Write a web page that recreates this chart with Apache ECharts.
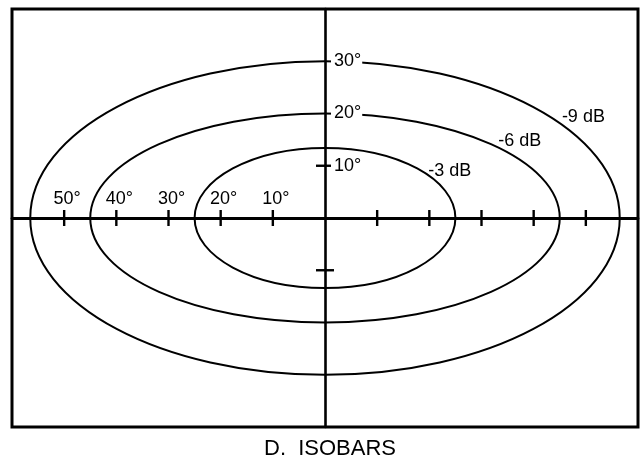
<!DOCTYPE html>
<html>
<head>
<meta charset="utf-8">
<script src="https://cdn.jsdelivr.net/npm/echarts@6/dist/echarts.min.js"></script>
<style>
  html, body { margin: 0; padding: 0; background: #fff; }
  #chart { width: 642px; height: 460px; }
</style>
</head>
<body>
<div id="chart"></div>
<script>
// isobars: half-width (horizontal degrees) and half-height (vertical degrees)
const isobarNames = ['-3 dB', '-6 dB', '-9 dB'];
const halfWidth = [25, 45, 56.5];
const halfHeight = [13.4, 20, 30];

// tick marks on the axes (degrees)
const xTicks = [-50, -40, -30, -20, -10, 10, 20, 30, 40, 50];
const yTicks = [10, -10];

// tick labels
const xLabelAt = [-50, -40, -30, -20, -10];
const xLabels = ['50°', '40°', '30°', '20°', '10°'];
const yLabelAt = [10, 20, 30];
const yLabels = ['10°', '20°', '30°'];

const FONT = 'Liberation Sans, Arial, Helvetica, sans-serif';
const chart = echarts.init(document.getElementById('chart'));

// where the dB labels sit along each curve (x in degrees) – placement only
const dbLabelX = [20, 33.4, 45.6];
const dbLabelLift = [5, 7, 8.5];

const option = {
  animation: false,
  backgroundColor: '#fff',
  title: {
    text: 'D.  ISOBARS',
    left: 264,
    top: 438,
    padding: 0,
    textStyle: { fontFamily: FONT, fontSize: 22, fontWeight: 'normal', color: '#000' }
  },
  grid: {
    show: true,
    left: 12, right: 4, top: 9, bottom: 33,
    borderColor: '#000',
    borderWidth: 3
  },
  xAxis: {
    type: 'value', min: -60, max: 60,
    axisLine: { onZero: true, lineStyle: { color: '#000', width: 2.8 } },
    axisTick: { show: false },
    axisLabel: { show: false },
    splitLine: { show: false }
  },
  yAxis: {
    type: 'value', min: -40, max: 40,
    axisLine: { onZero: true, lineStyle: { color: '#000', width: 2.6 } },
    axisTick: { show: false },
    axisLabel: { show: false },
    splitLine: { show: false }
  },
  series: [
    {
      type: 'custom',
      name: 'isobars',
      z: 3,
      data: halfWidth.map((w, i) => [w, halfHeight[i], i]),
      renderItem: function (params, api) {
        const c = api.coord([0, 0]);
        const s = api.size([api.value(0), api.value(1)]);
        return {
          type: 'ellipse',
          shape: { cx: c[0], cy: c[1], rx: s[0], ry: s[1] },
          style: { fill: 'none', stroke: '#000', lineWidth: 2 }
        };
      }
    },
    {
      type: 'custom',
      name: 'xticks',
      z: 3,
      data: xTicks.map(v => [v, 0]),
      renderItem: function (params, api) {
        const p = api.coord([api.value(0), 0]);
        return {
          type: 'line',
          shape: { x1: p[0], y1: p[1] - 8, x2: p[0], y2: p[1] + 8 },
          style: { stroke: '#000', lineWidth: 2.4 }
        };
      }
    },
    {
      type: 'custom',
      name: 'yticks',
      z: 3,
      data: yTicks.map(v => [0, v]),
      renderItem: function (params, api) {
        const p = api.coord([0, api.value(1)]);
        return {
          type: 'line',
          shape: { x1: p[0] - 9, y1: p[1], x2: p[0] + 9, y2: p[1] },
          style: { stroke: '#000', lineWidth: 2.4 }
        };
      }
    },
    {
      type: 'custom',
      name: 'xlabels',
      z: 5,
      data: xLabelAt.map((v, i) => [v, 0, i]),
      renderItem: function (params, api) {
        const p = api.coord([api.value(0), 0]);
        return {
          type: 'text',
          x: p[0] + 3, y: p[1] - 19,
          style: {
            text: xLabels[api.value(2)], fill: '#000',
            fontFamily: FONT, fontSize: 18,
            align: 'center', verticalAlign: 'middle'
          }
        };
      }
    },
    {
      type: 'custom',
      name: 'ylabels',
      z: 5,
      data: yLabelAt.map((v, i) => [0, v, i]),
      renderItem: function (params, api) {
        const p = api.coord([0, api.value(1)]);
        return {
          type: 'text',
          x: p[0] + 6, y: p[1],
          style: {
            text: yLabels[api.value(2)], fill: '#000',
            fontFamily: FONT, fontSize: 18,
            align: 'left', verticalAlign: 'middle',
            backgroundColor: '#fff', padding: [0, 1, 0, 3]
          }
        };
      }
    },
    {
      type: 'custom',
      name: 'dblabels',
      z: 5,
      data: halfWidth.map((w, i) => [w, halfHeight[i], i]),
      renderItem: function (params, api) {
        const i = api.value(2);
        const a = api.value(0), b = api.value(1);
        const x = dbLabelX[i];
        const y = b * Math.sqrt(1 - (x / a) * (x / a));
        const p = api.coord([x, y]);
        return {
          type: 'text',
          x: p[0] - 1, y: p[1] - dbLabelLift[i],
          style: {
            text: isobarNames[i], fill: '#000',
            fontFamily: FONT, fontSize: 18,
            align: 'left', verticalAlign: 'middle'
          }
        };
      }
    }
  ]
};

chart.setOption(option);
</script>
</body>
</html>
